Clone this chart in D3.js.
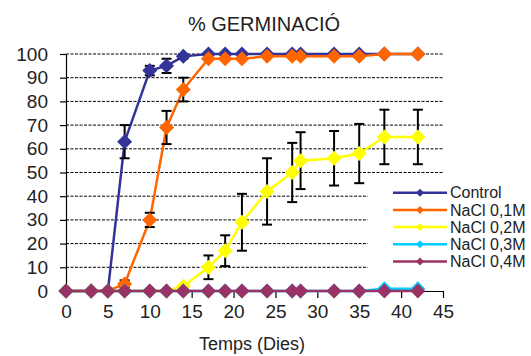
<!DOCTYPE html>
<html>
<head>
<meta charset="utf-8">
<script src="https://cdn.jsdelivr.net/npm/d3@7"></script>
<style>
  html, body { margin: 0; padding: 0; background: #fff; }
  svg { display: block; font-family: "Liberation Sans", Arial, sans-serif; }
</style>
</head>
<body>
<svg id="chart" width="531" height="356"></svg>
<script>
'use strict';

// ── Data ─────────────────────────────────────────────────────
const days      = [0, 3, 5, 7, 10, 12, 14, 17, 19, 21, 24, 27, 28, 32, 35, 38, 42];
const control   = [0, 0, 0, 63, 93, 95, 99, 100, 100, 100, 100, 100, 100, 100, 100, 100, 100];
const controlErr= [0, 0, 0, 7, 2, 3, 1, 0, 0, 0, 0, 0, 0, 0, 0, 0, 0];
const nacl01    = [0, 0, 0, 3, 30, 69, 85, 98, 98, 98, 99, 99, 99, 99, 99, 100, 100];
const nacl01Err = [0, 0, 0, 1.5, 3, 7, 5, 0, 0, 0, 0, 0, 0, 0, 0, 0, 0];
const nacl02    = [0, 0, 0, 0, 0, 0, 2, 10, 17, 29, 42, 50, 55, 56, 58, 65, 65];
const nacl02Err = [0, 0, 0, 0, 0, 0, 0, 5, 6.5, 12, 14, 12.5, 12, 11.5, 12.5, 11.5, 11.5];
const nacl03    = [0, 0, 0, 0, 0, 0, 0, 0, 0, 0, 0, 0, 0, 0, 0, 1, 1];
const nacl04    = [0, 0, 0, 0, 0, 0, 0, 0, 0, 0, 0, 0, 0, 0, 0, 0, 0];
const seriesNames = ['Control', 'NaCl 0,1M', 'NaCl 0,2M', 'NaCl 0,3M', 'NaCl 0,4M'];
const xTicks = [0, 5, 10, 15, 20, 25, 30, 35, 40, 45];
const yTicks = [0, 10, 20, 30, 40, 50, 60, 70, 80, 90, 100];

const COLORS = ['#333399', '#ff6600', '#ffff00', '#00ccff', '#993366'];
const TEXT   = '#222';

const series = [
  { values: control, err: controlErr },
  { values: nacl01,  err: nacl01Err },
  { values: nacl02,  err: nacl02Err },
  { values: nacl03,  err: null },
  { values: nacl04,  err: null },
].map((s, i) => ({
  name: seriesNames[i],
  color: COLORS[i],
  points: days.map((d, j) => ({ x: d, y: s.values[j], e: s.err ? s.err[j] : 0 })),
}));

// ── Scales ───────────────────────────────────────────────────
const svg = d3.select('#chart');
const x = d3.scaleLinear().domain([0, 45]).range([66, 443]);
const y = d3.scaleLinear().domain([0, 100]).range([291, 54]);

function diamond(r) { return `M0,${-r}L${r},0L0,${r}L${-r},0Z`; }

// ── Title ────────────────────────────────────────────────────
svg.append('text')
  .attr('x', 264).attr('y', 31)
  .attr('text-anchor', 'middle')
  .attr('font-size', 20)
  .attr('fill', TEXT)
  .text('% GERMINACIÓ');

// ── Grid ─────────────────────────────────────────────────────
svg.append('g')
  .selectAll('line').data(yTicks.filter(t => t > 0)).join('line')
  .attr('x1', x(0)).attr('x2', x(45))
  .attr('y1', d => y(d)).attr('y2', d => y(d))
  .attr('stroke', '#000')
  .attr('stroke-width', 1)
  .attr('stroke-dasharray', '3,1.5');

// ── Axes ─────────────────────────────────────────────────────
const yAxis = svg.append('g')
  .attr('transform', `translate(${x(0)},0)`)
  .call(d3.axisLeft(y).tickValues(yTicks).tickSize(6).tickSizeOuter(0).tickPadding(12));

const xAxis = svg.append('g')
  .attr('transform', `translate(0,${y(0)})`)
  .call(d3.axisBottom(x).tickValues(xTicks).tickSize(7).tickSizeOuter(0).tickPadding(7));

[yAxis, xAxis].forEach(a => {
  a.selectAll('path, line').attr('stroke', '#000').attr('stroke-width', 1.2);
  a.selectAll('text')
    .attr('font-size', 19)
    .attr('fill', TEXT)
    .attr('font-family', '"Liberation Sans", Arial, sans-serif');
});

svg.append('text')
  .attr('x', 252).attr('y', 350)
  .attr('text-anchor', 'middle')
  .attr('font-size', 18)
  .attr('fill', TEXT)
  .text('Temps (Dies)');

// ── Legend background (covers grid lines) ────────────────────
svg.append('rect')
  .attr('x', 368).attr('y', 178)
  .attr('width', 163).attr('height', 96)
  .attr('fill', '#fff');

// ── Series ───────────────────────────────────────────────────
const line = d3.line().x(d => x(d.x)).y(d => y(d.y));

series.forEach(s => {
  const g = svg.append('g');

  g.append('path')
    .datum(s.points)
    .attr('d', line)
    .attr('fill', 'none')
    .attr('stroke', s.color)
    .attr('stroke-width', 2.5);

  const withErr = s.points.filter(p => p.e > 0);
  const bars = g.selectAll('g.err').data(withErr).join('g').attr('class', 'err');
  bars.append('line')
    .attr('x1', d => x(d.x)).attr('x2', d => x(d.x))
    .attr('y1', d => y(d.y + d.e)).attr('y2', d => y(d.y - d.e));
  bars.selectAll('line.cap').data(d => [d.y + d.e, d.y - d.e].map(v => ({ x: d.x, v })))
    .join('line').attr('class', 'cap')
    .attr('x1', d => x(d.x) - 5).attr('x2', d => x(d.x) + 5)
    .attr('y1', d => y(d.v)).attr('y2', d => y(d.v));
  bars.selectAll('line').attr('stroke', '#000').attr('stroke-width', 2);

  g.selectAll('path.pt').data(s.points).join('path')
    .attr('class', 'pt')
    .attr('d', diamond(7.5))
    .attr('transform', d => `translate(${x(d.x)},${y(d.y)})`)
    .attr('fill', s.color);
});

// ── Legend ───────────────────────────────────────────────────
const legend = svg.append('g')
  .selectAll('g').data(series).join('g')
  .attr('transform', (d, i) => `translate(0,${192.7 + i * 17.2})`);

legend.append('line')
  .attr('x1', 393).attr('x2', 447)
  .attr('stroke', d => d.color)
  .attr('stroke-width', 2.5);

legend.append('path')
  .attr('d', diamond(4))
  .attr('transform', 'translate(420,0)')
  .attr('fill', d => d.color);

legend.append('text')
  .attr('x', 450).attr('y', 0)
  .attr('dy', '0.36em')
  .attr('font-size', 16)
  .attr('fill', TEXT)
  .text(d => d.name);
</script>
</body>
</html>
